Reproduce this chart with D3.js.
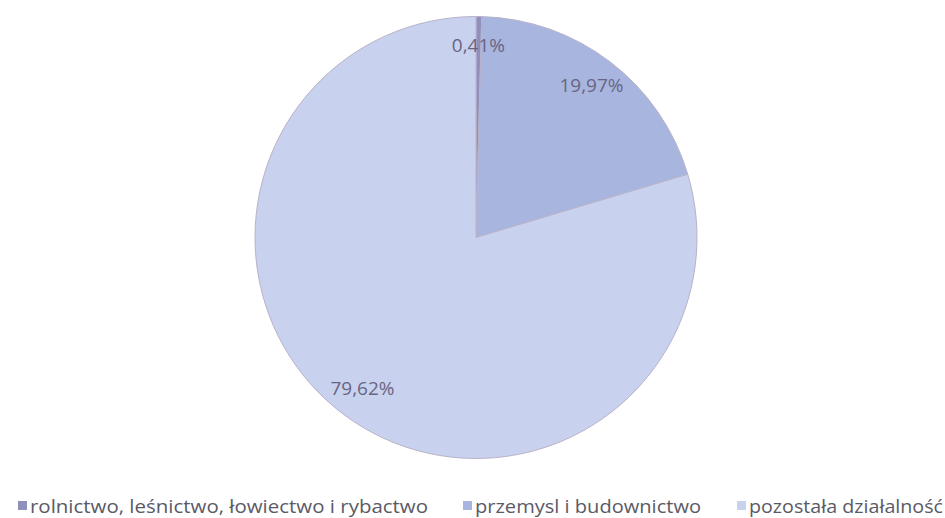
<!DOCTYPE html>
<html>
<head>
<meta charset="utf-8">
<script src="https://cdn.jsdelivr.net/npm/d3@7"></script>
<style>
  html, body { margin: 0; padding: 0; background: #fff; }
  svg { display: block; }
</style>
</head>
<body>
<svg id="chart" width="945" height="518"></svg>
<script>
// Sector shares of the total
const categories = ["rolnictwo, leśnictwo, łowiectwo i rybactwo", "przemysl i budownictwo", "pozostała działalność"];
const shares = [0.41, 19.97, 79.62];
const labels = ["0,41%", "19,97%", "79,62%"];
const colors = ["#8e8fba", "#a8b6df", "#c8d2ee"];

const svg = d3.select("#chart");
const cx = 476, cy = 237.5, r = 221;

const pie = d3.pie().sort(null).value(d => d)(shares);
const arc = d3.arc().innerRadius(0).outerRadius(r);
const labelArc = d3.arc().innerRadius(r * 0.86).outerRadius(r * 0.86);

const g = svg.append("g").attr("transform", `translate(${cx},${cy})`);

g.selectAll("path.slice")
  .data(pie)
  .join("path")
  .attr("class", "slice")
  .attr("d", arc)
  .attr("fill", (d, i) => colors[i])
  .attr("stroke", "#b9b2c9")
  .attr("stroke-width", 1);

g.selectAll("text.lbl")
  .data(pie)
  .join("text")
  .attr("class", "lbl")
  .attr("transform", d => { const [x, y] = labelArc.centroid(d); return `translate(${x},${y - 2})`; })
  .attr("text-anchor", "middle")
  .attr("dominant-baseline", "central")
  .attr("font-family", "'Open Sans', 'DejaVu Sans', sans-serif")
  .attr("font-size", 19)
  .attr("fill", "#6a6483")
  .text((d, i) => labels[i]);

// Legend row along the bottom
const legendX = [18, 463, 737];
const legendWidths = [398, 226, 194];
const legend = svg.append("g").attr("transform", "translate(0,506)");
const items = legend.selectAll("g.item")
  .data(categories)
  .join("g")
  .attr("class", "item")
  .attr("transform", (d, i) => `translate(${legendX[i]},0)`);

items.append("rect")
  .attr("x", 0).attr("y", -5)
  .attr("width", 9).attr("height", 9)
  .attr("fill", (d, i) => colors[i]);

items.append("text")
  .attr("x", 12)
  .attr("y", 0)
  .attr("dominant-baseline", "central")
  .attr("font-family", "'Open Sans', sans-serif")
  .attr("font-size", 19)
  .attr("textLength", (d, i) => legendWidths[i])
  .attr("lengthAdjust", "spacingAndGlyphs")
  .attr("fill", "#5a5a66")
  .text(d => d);
</script>
</body>
</html>
